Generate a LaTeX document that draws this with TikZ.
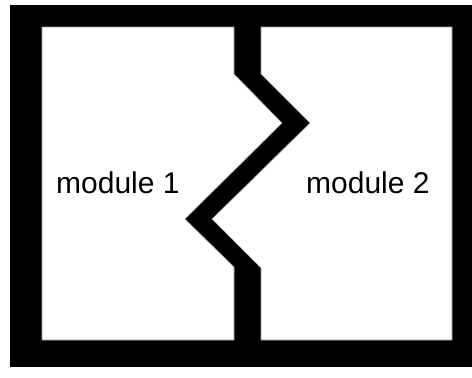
\documentclass[tikz,border=0pt]{standalone}
\usepackage{fontspec}
\setmainfont{Liberation Sans}
\begin{document}
\begin{tikzpicture}[x=1bp,y=-1bp,
  module/.style={fill=white,draw=black!40,line width=0.6bp},
  label/.style={anchor=base west,inner sep=0pt,font=\fontsize{30bp}{36bp}\selectfont}]
\useasboundingbox (0,0) rectangle (472,377);
\fill[white] (0,0) rectangle (472,377);
\fill[black] (10,5) rectangle (472,367);
\path[module] (42,27) -- (234,27) -- (234,74) -- (282,123) -- (185,219) -- (234,267) -- (234,340) -- (42,340) -- cycle;
\path[module] (261,27) -- (452,27) -- (452,340) -- (261,340) -- (261,268) -- (212,219) -- (310,123) -- (261,74) -- cycle;
\node[label] (m1) at (56,193) {module 1};
\node[label] (m2) at (306,193) {module 2};
\end{tikzpicture}
\end{document}
